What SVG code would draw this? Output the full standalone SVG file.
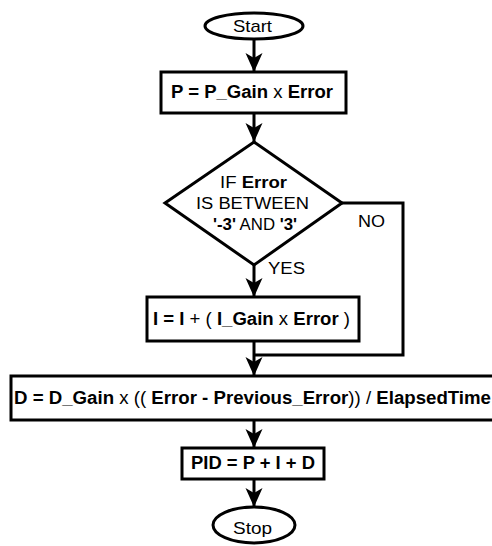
<svg xmlns="http://www.w3.org/2000/svg" width="492" height="546" viewBox="0 0 492 546">
<style>
.shape{fill:#fff;stroke:#000;stroke-width:3}
.t{font-family:"Liberation Sans",Arial,sans-serif;font-size:18px;fill:#000}
.s{font-size:16px}
.m{font-size:17px}
.b{font-weight:bold}
.c{fill:none;stroke:#000;stroke-width:3}
</style>
<defs>
<marker id="arr" markerUnits="userSpaceOnUse" markerWidth="20" markerHeight="20" viewBox="-19 -10 20 20" refX="0" refY="0" orient="auto">
<path d="M0,0 L-19,-8.5 L-14,0 L-19,8.5 Z" fill="#000"/>
</marker>
</defs>
<rect width="492" height="546" fill="#fff"/>
<g id="connectors">
<line class="c" x1="254" y1="39" x2="254" y2="72" marker-end="url(#arr)"/>
<line class="c" x1="254" y1="113" x2="254" y2="142" marker-end="url(#arr)"/>
<line class="c" x1="254" y1="265" x2="254" y2="297" marker-end="url(#arr)"/>
<line class="c" x1="254" y1="341" x2="254" y2="376" marker-end="url(#arr)"/>
<path class="c" d="M342,203 H403 V355 H254"/>
<line class="c" x1="254" y1="420" x2="254" y2="448" marker-end="url(#arr)"/>
<line class="c" x1="254" y1="479" x2="254" y2="507" marker-end="url(#arr)"/>
<text class="t s" x="358" y="227" textLength="27" lengthAdjust="spacingAndGlyphs">NO</text>
<text class="t s" x="268" y="274" textLength="37" lengthAdjust="spacingAndGlyphs">YES</text>
</g>
<g id="start">
<ellipse class="shape" cx="254" cy="26" rx="49" ry="13"/>
<text class="t m" x="233" y="32" textLength="39" lengthAdjust="spacingAndGlyphs">Start</text>
</g>
<g id="p">
<rect class="shape" x="161" y="72" width="185" height="41"/>
<text class="t" x="171" y="98" textLength="162" lengthAdjust="spacingAndGlyphs"><tspan class="b">P = P_Gain</tspan> x <tspan class="b">Error</tspan></text>
</g>
<g id="decision">
<polygon class="shape" points="254,142 342,203 254,265 165,203"/>
<text class="t s" x="220" y="188" textLength="67" lengthAdjust="spacingAndGlyphs">IF <tspan class="b">Error</tspan></text>
<text class="t s" x="196" y="209" textLength="113" lengthAdjust="spacingAndGlyphs">IS BETWEEN</text>
<text class="t s" x="213" y="230" textLength="84" lengthAdjust="spacingAndGlyphs"><tspan class="b">'-3'</tspan> AND <tspan class="b">'3'</tspan></text>
</g>
<g id="i">
<rect class="shape" x="147" y="297" width="212" height="44"/>
<text class="t" x="153" y="325" textLength="197" lengthAdjust="spacingAndGlyphs"><tspan class="b">I = I</tspan> + ( <tspan class="b">I_Gain</tspan> x <tspan class="b">Error</tspan> )</text>
</g>
<g id="d">
<rect class="shape" x="11" y="376" width="500" height="44"/>
<text class="t" x="14" y="404" textLength="477" lengthAdjust="spacingAndGlyphs"><tspan class="b">D = D_Gain</tspan> x (( <tspan class="b">Error - Previous_Error</tspan>)) / <tspan class="b">ElapsedTime</tspan></text>
</g>
<g id="pid">
<rect class="shape" x="182" y="448" width="142" height="31"/>
<text class="t b" x="191" y="469" textLength="124" lengthAdjust="spacingAndGlyphs">PID = P + I + D</text>
</g>
<g id="stop">
<ellipse class="shape" cx="254" cy="525" rx="41" ry="18"/>
<text class="t m" x="233" y="534" textLength="39" lengthAdjust="spacingAndGlyphs">Stop</text>
</g>
</svg>
